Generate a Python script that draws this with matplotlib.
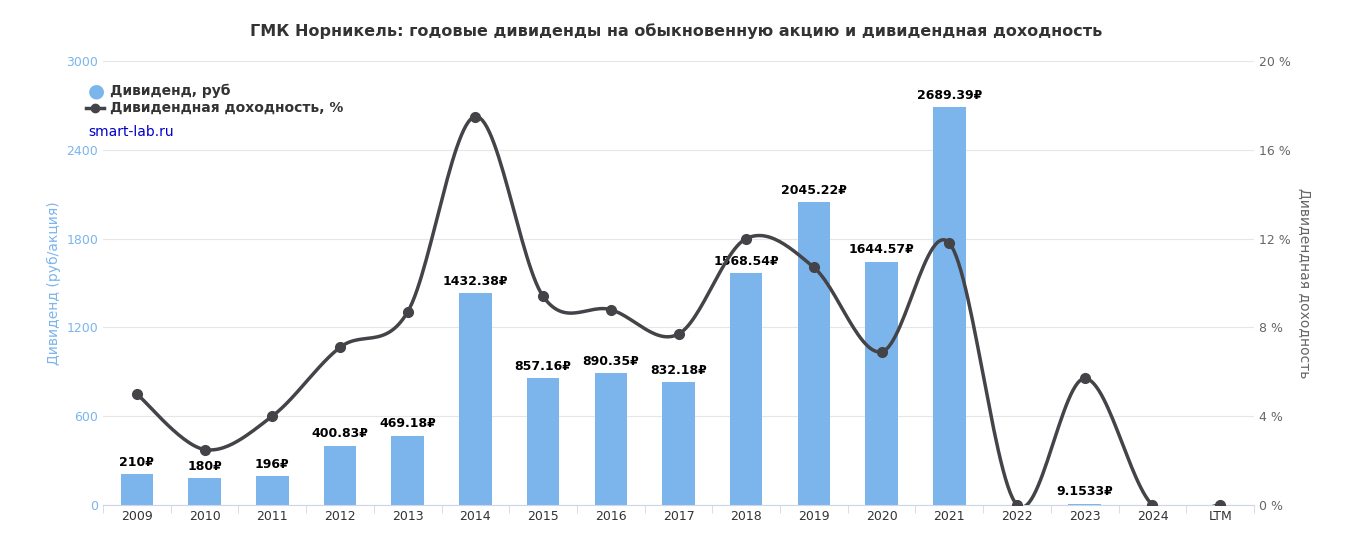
import numpy as np
import matplotlib
matplotlib.use("Agg")
import matplotlib.pyplot as plt

years = ["2009","2010","2011","2012","2013","2014","2015","2016","2017","2018","2019","2020","2021","2022","2023","2024","LTM"]
dividends = [210,180,196,400.83,469.18,1432.38,857.16,890.35,832.18,1568.54,2045.22,1644.57,2689.39,0,9.1533,0,0]
div_labels = ["210₽","180₽","196₽","400.83₽","469.18₽","1432.38₽","857.16₽","890.35₽","832.18₽","1568.54₽","2045.22₽","1644.57₽","2689.39₽","","9.1533₽","",""]
yields = [5.0,2.5,4.0,7.1,8.7,17.5,9.4,8.8,7.7,12.0,10.7,6.9,11.8,0,5.7,0,0]

plt.rcParams["font.family"] = "DejaVu Sans"
fig = plt.figure(figsize=(13.52,5.53), dpi=100)
ax = fig.add_axes([103/1352, 48/553, 1151/1352, 444/553])
x = np.arange(len(years))
ax.bar(x, dividends, width=0.48, color="#7cb5ec", zorder=2)
for xi, v, l in zip(x, dividends, div_labels):
    if l:
        ax.text(xi, v+35, l, ha="center", va="bottom", fontsize=9, fontweight="bold", color="black")
ax.set_xlim(-0.5, len(years)-0.5)
ax.set_ylim(0, 3000)
ax.set_yticks([0,600,1200,1800,2400,3000])
ax.tick_params(axis="y", colors="#7cb5ec", labelsize=9, length=0)
ax.tick_params(axis="x", labelsize=9, colors="#333333", length=5)
ax.set_xticks(x)
ax.set_xticklabels(years)
ax.set_xticks(np.arange(-0.5, len(years)), minor=True)
ax.tick_params(axis="x", which="major", length=0)
ax.tick_params(axis="x", which="minor", length=6, color="#ccd6eb")
ax.grid(axis="y", color="#e6e6e6", zorder=0)
for s in ["top","right","left"]:
    ax.spines[s].set_visible(False)
ax.spines["bottom"].set_color("#ccd6eb")
ax.set_ylabel("Дивиденд (руб/акция)", color="#7cb5ec", fontsize=10)

ax2 = ax.twinx()
ax2.set_ylim(0, 20)
ax2.set_yticks([0,4,8,12,16,20])
ax2.set_yticklabels([f"{v} %" for v in [0,4,8,12,16,20]])
ax2.tick_params(axis="y", labelsize=9, colors="#666666", length=0)
for s in ax2.spines.values():
    s.set_visible(False)
ax2.set_ylabel("Дивидендная доходность", rotation=270, labelpad=15, color="#666666", fontsize=10)

# Catmull-Rom smoothing for display
px = x.astype(float); py = np.array(yields, float)
P = np.vstack([px, py]).T
P = np.vstack([P[0], P, P[-1]])
cx, cy = [], []
for i in range(1, len(P)-2):
    p0,p1,p2,p3 = P[i-1],P[i],P[i+1],P[i+2]
    t = np.linspace(0,1,30)[:,None]
    c = 0.5*((2*p1)+(-p0+p2)*t+(2*p0-5*p1+4*p2-p3)*t**2+(-p0+3*p1-3*p2+p3)*t**3)
    cx.extend(c[:,0]); cy.extend(c[:,1])
ax2.plot(cx, cy, color="#434348", lw=2.5, zorder=3)
ax2.plot(px, py, "o", color="#434348", ms=7, zorder=4)

fig.text(0.5, 1-31/553, "ГМК Норникель: годовые дивиденды на обыкновенную акцию и дивидендная доходность",
         ha="center", va="center", fontsize=11.5, fontweight="bold", color="#333333")
fig.text(88/1352, 1-91/553, "●", color="#7cb5ec", fontsize=14, va="center")
fig.text(110/1352, 1-91/553, "Дивиденд, руб", fontsize=10, fontweight="bold", color="#333333", va="center")
fig.add_artist(plt.Line2D([86/1352,104/1352],[1-108/553,1-108/553], color="#434348", lw=2.5))
fig.add_artist(plt.Line2D([95/1352],[1-108/553], marker="o", color="#434348", ms=6))
fig.text(110/1352, 1-108/553, "Дивидендная доходность, %", fontsize=10, fontweight="bold", color="#333333", va="center")
fig.text(88/1352, 1-132/553, "smart-lab.ru", fontsize=10, color="#0000cc", va="center")
fig.savefig("out.png", dpi=100)
